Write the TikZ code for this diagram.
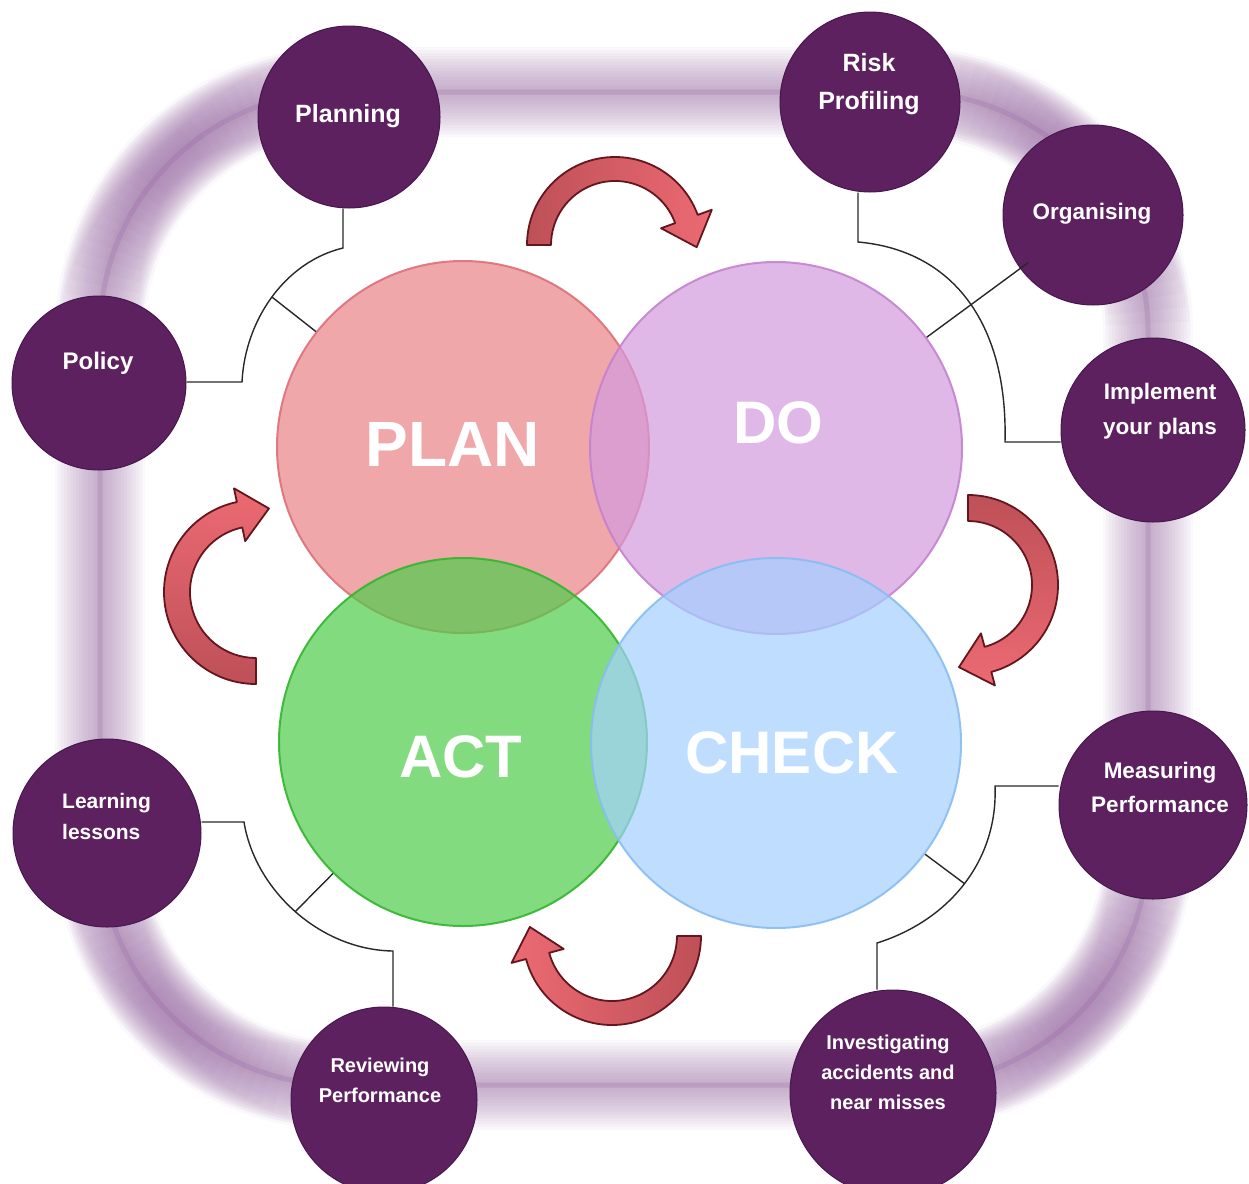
\documentclass[tikz,border=0pt]{standalone}
\usepackage{fontspec}
\setmainfont{Liberation Sans}
\usetikzlibrary{calc}
\definecolor{purp}{RGB}{93,33,96}
\definecolor{purpedge}{RGB}{72,22,78}
\definecolor{framec}{RGB}{150,98,162}
\definecolor{planc}{RGB}{233,131,135}
\definecolor{plane}{RGB}{222,112,120}
\definecolor{doc}{RGB}{212,155,222}
\definecolor{doe}{RGB}{196,130,208}
\definecolor{actc}{RGB}{79,205,74}
\definecolor{acte}{RGB}{50,182,46}
\definecolor{checkc}{RGB}{165,208,255}
\definecolor{checke}{RGB}{135,190,240}
\definecolor{arrdark}{RGB}{190,80,88}
\definecolor{arrlight}{RGB}{236,106,114}
\definecolor{arredge}{RGB}{100,22,30}
\definecolor{connc}{RGB}{40,40,40}
\newcommand{\cyclearrow}[6]{%
  \draw[arrowstyle,#6] ($(#1)+(#2:#4)$) arc[start angle=#2, end angle=#3, radius=#4]
    -- ($(#1)+(#3:{(#4+#5)/2+27})$)
    -- ($(#1)+(#3:{(#4+#5)/2})+(#3+90:30)$)
    -- ($(#1)+(#3:{(#4+#5)/2-27})$)
    -- ($(#1)+(#3:#5)$) arc[start angle=#3, end angle=#2, radius=#5] -- cycle;}
\tikzset{
  smallc/.style={circle, fill=purp, draw=purpedge, line width=1pt, inner sep=0pt},
  stxt/.style={text=white, align=center, inner sep=0pt},
  bigc/.style={circle, inner sep=0pt, minimum size=#1, line width=2pt, fill opacity=0.7, draw opacity=0.9},
  bigtxt/.style={text=white, inner sep=0pt, font=\fontsize{60}{60}\selectfont\bfseries},
  conn/.style={draw=connc, line width=1.4pt},
  arrowstyle/.style={draw=arredge, line width=1.8pt, line join=round},
}
\begin{document}
\begin{tikzpicture}[x=1pt,y=-1pt]
\useasboundingbox (0,0) rectangle (1249,1183);
\fill[white] (0,0) rectangle (1249,1183);
% blurred frame
\foreach \i in {0,...,14}{
  \draw[framec, line width={90-6*\i}, opacity=0.045, rounded corners=240pt] (100,92) rectangle (1148,1085);
}
\draw[framec, line width=5pt, opacity=0.2, rounded corners=240pt] (100,92) rectangle (1148,1085);
\foreach \cx/\cy/\a in {340/332/180, 908/332/270, 908/845/0, 340/845/90}{
  \foreach \i in {0,...,12}{
    \draw[framec, line width={84-4*\i}, opacity=0.035] ($(\cx,\cy)+(\a+2+3*\i:240)$) arc[start angle=\a+2+3*\i, end angle=\a+88-3*\i, radius=240];
  }
}
% main circles
\node[bigc=372pt, fill=planc, draw=plane] (plan) at (463,447) {};
\node[bigc=372pt, fill=doc, draw=doe] (do) at (776,448) {};
\node[bigc=368pt, fill=actc, draw=acte] (act) at (463,742) {};
\node[bigc=370pt, fill=checkc, draw=checke] (check) at (776,743) {};
\node[bigtxt, font=\fontsize{64}{64}\selectfont\bfseries] (tplan) at (453,444) {PLAN};
\node[bigtxt] (tdo) at (778,423) {DO};
\node[bigtxt] (tact) at (461,757) {ACT};
\node[bigtxt] (tcheck) at (792,753) {CHECK};
% curved arrows
\coordinate (atop) at (615,245);
\coordinate (aright) at (968,585);
\coordinate (abot) at (612,936);
\coordinate (aleft) at (256,592);
\cyclearrow{atop}{180}{340}{88}{64}{left color=arrdark, right color=arrlight}
\cyclearrow{aright}{270}{435}{90}{64}{top color=arrdark, bottom color=arrlight}
\cyclearrow{abot}{0}{165}{89}{65}{right color=arrdark, left color=arrlight}
\cyclearrow{aleft}{90}{258}{92}{66}{bottom color=arrdark, top color=arrlight}
% small circles
\node[smallc, minimum size=182pt] (planning) at (349,117) {};
\node[smallc, minimum size=180pt] (risk) at (870,102) {};
\node[smallc, minimum size=180pt] (organising) at (1093,215) {};
\node[smallc, minimum size=184pt] (implement) at (1153,430) {};
\node[smallc, minimum size=174pt] (policy) at (99,383) {};
\node[smallc, minimum size=188pt] (learning) at (107,833) {};
\node[smallc, minimum size=188pt] (measuring) at (1153,805) {};
\node[smallc, minimum size=206pt] (investigating) at (893,1093) {};
\node[smallc, minimum size=186pt] (reviewing) at (384,1100) {};
% texts
\node[stxt, font=\fontsize{25}{38}\selectfont\bfseries] (tplanning) at (348,116) {Planning};
\node[stxt, font=\fontsize{25}{38}\selectfont\bfseries] (trisk) at (869,84) {Risk\\Profiling};
\node[stxt, font=\fontsize{22.5}{34}\selectfont\bfseries] (torg) at (1092,214) {Organising};
\node[stxt, font=\fontsize{22.5}{35}\selectfont\bfseries] (timpl) at (1160,411) {Implement\\your plans};
\node[stxt, font=\fontsize{24}{36}\selectfont\bfseries] (tpolicy) at (98,363) {Policy};
\node[stxt, align=left, anchor=west, font=\fontsize{21}{31}\selectfont\bfseries] (tlearn) at (62,816) {Learning\\lessons};
\node[stxt, font=\fontsize{22.5}{34}\selectfont\bfseries] (tmeas) at (1160,787) {Measuring\\Performance};
\node[stxt, font=\fontsize{20}{30}\selectfont\bfseries] (trev) at (380,1080) {Reviewing\\Performance};
\node[stxt, font=\fontsize{20}{30}\selectfont\bfseries] (tinv) at (888,1072) {Investigating\\accidents and\\near misses};
% connectors
\coordinate (tl1) at (343,248);
\coordinate (tl2) at (242,382);
\draw[conn] (planning.south -| tl1) -- (tl1) .. controls (285,262) and (245,320) .. (tl2) coordinate[pos=0.5] (tlb) -- (tl2 -| policy.east);
\draw[conn] (tlb) -- (plan);
\coordinate (tr1) at (858,242);
\coordinate (tr2) at (1005,442);
\draw[conn] (risk.south -| tr1) -- (tr1) .. controls (950,250) and (1008,320) .. (tr2) -- (tr2 -| implement.west);
\draw[conn, shorten <=-10pt] (organising) -- (do);
\coordinate (bl1) at (244,822);
\coordinate (bl2) at (393,951);
\draw[conn] (learning.east |- bl1) -- (bl1) .. controls (255,890) and (320,950) .. (bl2) coordinate[pos=0.5] (blb) -- (bl2 |- reviewing.north);
\draw[conn] (blb) -- (act);
\coordinate (br1) at (995,786);
\coordinate (br2) at (877,943);
\draw[conn] (measuring.west |- br1) -- (br1) .. controls (998,860) and (950,920) .. (br2) coordinate[pos=0.5] (brb) -- (br2 |- investigating.north);
\draw[conn] (brb) -- (check);
\end{tikzpicture}
\end{document}
